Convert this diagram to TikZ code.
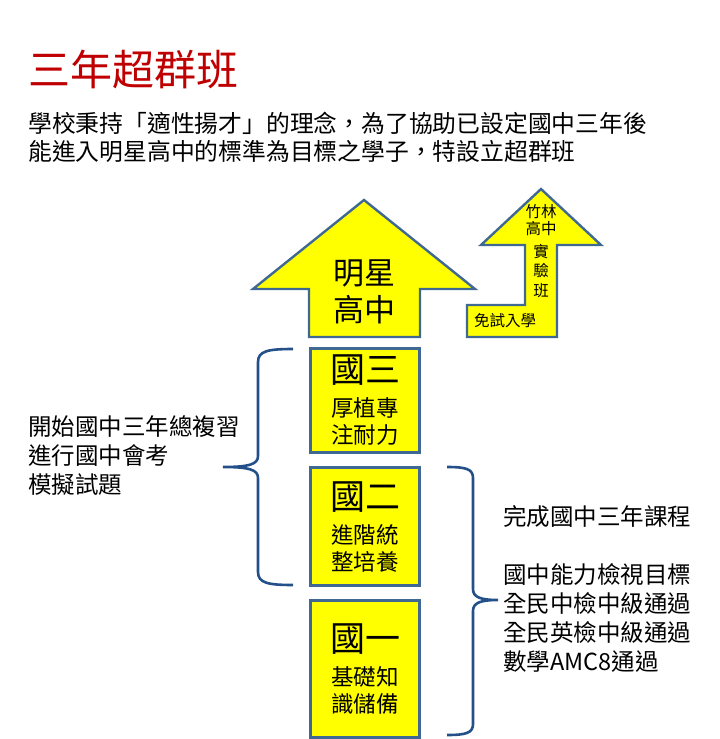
\documentclass[tikz,border=0pt]{standalone}
\usepackage{fontspec}
\newfontfamily\cjkfont{Noto Sans CJK TC}
\usepackage{tikz}
\usetikzlibrary{positioning}
\definecolor{titlered}{HTML}{C00000}
\definecolor{edgeblue}{HTML}{3F6892}
\definecolor{braceblue}{HTML}{24508A}
\definecolor{boxyellow}{HTML}{FFFF00}

\begin{document}
\begin{tikzpicture}[
   x=1pt,y=-1pt,
   font=\cjkfont,
   node distance=12.5pt,
   yearbox/.style={draw=edgeblue,line width=2.8pt,fill=boxyellow,
               minimum width=109pt,inner sep=0pt,align=center,
               font=\cjkfont\fontsize{22.5}{27}\selectfont},
   uparrow/.style={draw=edgeblue,line width=2.4pt,fill=boxyellow,line join=miter},
   curly/.style={draw=braceblue,line width=2.6pt},
   txt/.style={inner sep=0pt,align=left,anchor=west,
               font=\cjkfont\fontsize{23.5}{29}\selectfont}
 ]
  \useasboundingbox (0,0) rectangle (720,739);
  % heading
  \node[inner sep=0pt,anchor=west,text=titlered,
        font=\cjkfont\fontsize{42}{42}\selectfont] (title) at (28,69) {三年超群班};
  \node[txt,font=\cjkfont\fontsize{23.8}{28}\selectfont] (intro) at (28,137)
    {學校秉持「適性揚才」的理念，為了協助已設定國中三年後\\能進入明星高中的標準為目標之學子，特設立超群班};
  % arrows
  \draw[uparrow] (309,337) -- (420,337) -- (420,289) -- (475,289) -- (364,200)
     -- (253,289) -- (309,289) -- cycle;
  \node[inner sep=0pt,align=center,font=\cjkfont\fontsize{31}{37}\selectfont]
     (star) at (364,292) {明星\\高中};
  \draw[uparrow] (467,337) -- (557,337) -- (557,245) -- (601,245) -- (541,189)
     -- (481,245) -- (525,245) -- (525,305) -- (467,305) -- cycle;
  \node[inner sep=0pt,align=center,font=\cjkfont\fontsize{15.5}{17}\selectfont]
     (bamboo) at (541,220) {竹林\\高中};
  \node[inner sep=0pt,align=center,font=\cjkfont\fontsize{15.5}{19.5}\selectfont]
     (lab) at (541,271) {實\\驗\\班};
  \node[inner sep=0pt,font=\cjkfont\fontsize{15.5}{17}\selectfont]
     (exempt) at (505,321) {免試入學};
  % year boxes
  \node[yearbox,minimum height=104pt] (g9) at (365,400.5)
    {{\fontsize{35}{35}\selectfont 國三}\\[7pt]厚植專\\注耐力};
  \node[yearbox,minimum height=118pt,below=of g9] (g8)
    {{\fontsize{35}{35}\selectfont 國二}\\[7pt]進階統\\整培養};
  \node[yearbox,minimum height=137pt,below=12pt of g8] (g7)
    {{\fontsize{35}{35}\selectfont 國一}\\[7pt]基礎知\\識儲備};
  % braces
  \draw[curly] (293,349) .. controls (268,349) and (258,351) .. (258,362)
     -- (258,456) .. controls (258,464) and (250,467) .. (223,467)
     .. controls (250,467) and (258,470) .. (258,478)
     -- (258,572) .. controls (258,583) and (268,585) .. (293,585);
  \draw[curly] (447,467) .. controls (466,467) and (473,469) .. (473,478)
     -- (473,589) .. controls (473,597) and (480,600) .. (498,600)
     .. controls (480,600) and (473,603) .. (473,611)
     -- (473,724) .. controls (473,733) and (466,735) .. (447,735);
  \node[txt] (review) at (28,456) {開始國中三年總複習\\進行國中會考\\模擬試題};
  \node[txt] (goals) at (503,588.5)
    {完成國中三年課程\\[29pt]國中能力檢視目標\\全民中檢中級通過\\全民英檢中級通過\\數學AMC8通過};
 \end{tikzpicture}
\end{document}
